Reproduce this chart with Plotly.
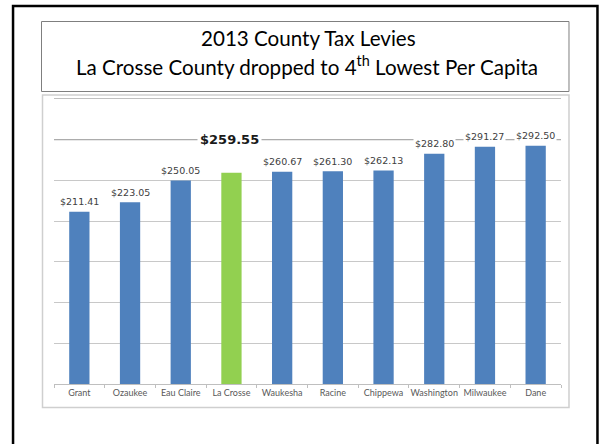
import plotly.graph_objects as go

counties = ["Grant", "Ozaukee", "Eau Claire", "La Crosse", "Waukesha",
            "Racine", "Chippewa", "Washington", "Milwaukee", "Dane"]
levy_per_capita = [211.41, 223.05, 250.05, 259.55, 260.67,
                   261.30, 262.13, 282.80, 291.27, 292.50]
highlight = "La Crosse"
highlight_label_level = 300
y_ticks = [0, 50, 100, 150, 200, 250, 300, 350]
title_lines = ["2013 County Tax Levies",
               "La Crosse County dropped to 4<sup>th</sup> Lowest Per Capita"]

BLUE = "#4F81BD"
GREEN = "#92D050"

colors = [GREEN if c == highlight else BLUE for c in counties]

W, H = 602, 444
ml, mr, mt, mb = 54, 40.5, 99, 60
pw, ph = W - ml - mr, H - mt - mb


def px(x):
    return (x - ml) / pw


def py(y):
    return 1 - (y - mt) / ph


fig = go.Figure()
fig.add_trace(go.Bar(
    x=counties, y=levy_per_capita, marker=dict(color=colors, line=dict(width=0)),
    width=0.4, hoverinfo="skip", showlegend=False,
))

annotations = []
for c, v in zip(counties, levy_per_capita):
    if c == highlight:
        continue
    annotations.append(dict(
        x=c, y=v, xref="x", yref="y", text=f"${v:.2f}", showarrow=False,
        yanchor="middle", yshift=10, bgcolor="white", borderpad=1,
        font=dict(family="DejaVu Sans", size=9.5, color="#404040"),
    ))
hv = levy_per_capita[counties.index(highlight)]
annotations.append(dict(
    x=highlight, y=highlight_label_level, xref="x", yref="y",
    text=f"<b>${hv:.2f}</b>",
    showarrow=False, yanchor="middle", xshift=-2, bgcolor="white", borderpad=2,
    font=dict(family="DejaVu Sans", size=13, color="#1a1a1a"),
))
annotations.append(dict(
    x=px(309), y=py(38), xref="paper", yref="paper", text=title_lines[0],
    showarrow=False, yanchor="middle",
    font=dict(family="Lato", size=20.6, color="black"),
))
annotations.append(dict(
    x=px(307), y=py(65), xref="paper", yref="paper", text=title_lines[1],
    showarrow=False, yanchor="middle",
    font=dict(family="Lato", size=20.6, color="black"),
))

shapes = [
    # slide border
    dict(type="rect", xref="paper", yref="paper", x0=px(13), x1=px(598),
         y0=py(6), y1=py(460), line=dict(color="black", width=2.5),
         fillcolor="rgba(0,0,0,0)", layer="below"),
    # title box
    dict(type="rect", xref="paper", yref="paper", x0=px(41.5), x1=px(569.5),
         y0=py(21.5), y1=py(91.5), line=dict(color="#7f7f7f", width=1),
         fillcolor="white", layer="below"),
    # chart box
    dict(type="rect", xref="paper", yref="paper", x0=px(42.5), x1=px(569.5),
         y0=py(95), y1=py(407.5), line=dict(color="#cfcfcf", width=1.5),
         fillcolor="white", layer="below"),
    # emphasised gridline behind the highlight label
    dict(type="line", xref="paper", yref="y", x0=0, x1=1,
         y0=highlight_label_level, y1=highlight_label_level,
         line=dict(color="#a3a3a3", width=1.1), layer="above"),
]

fig.update_layout(
    width=W, height=H,
    margin=dict(l=ml, r=mr, t=mt, b=mb, pad=0, autoexpand=False),
    paper_bgcolor="white", plot_bgcolor="rgba(0,0,0,0)",
    bargap=0.6,
    xaxis=dict(
        showgrid=False, showline=True, linecolor="#bfbfbf", linewidth=1,
        mirror=True,
        ticks="outside", tickson="boundaries", ticklen=3, tickcolor="#bfbfbf",
        tickangle=0, automargin=False,
        tickfont=dict(family="Lato", size=9, color="#595959"),
        fixedrange=True,
    ),
    yaxis=dict(
        range=[0, 350], tickvals=y_ticks, showticklabels=False,
        showgrid=True, gridcolor="#c8c8c8", gridwidth=1, zeroline=False,
        showline=False, ticks="", fixedrange=True, automargin=False,
    ),
    annotations=annotations,
    shapes=shapes,
)

fig.write_html(
    "out.html",
    config={"displayModeBar": False},
    post_script="document.body.style.margin='0';document.body.style.overflow='hidden';",
)
